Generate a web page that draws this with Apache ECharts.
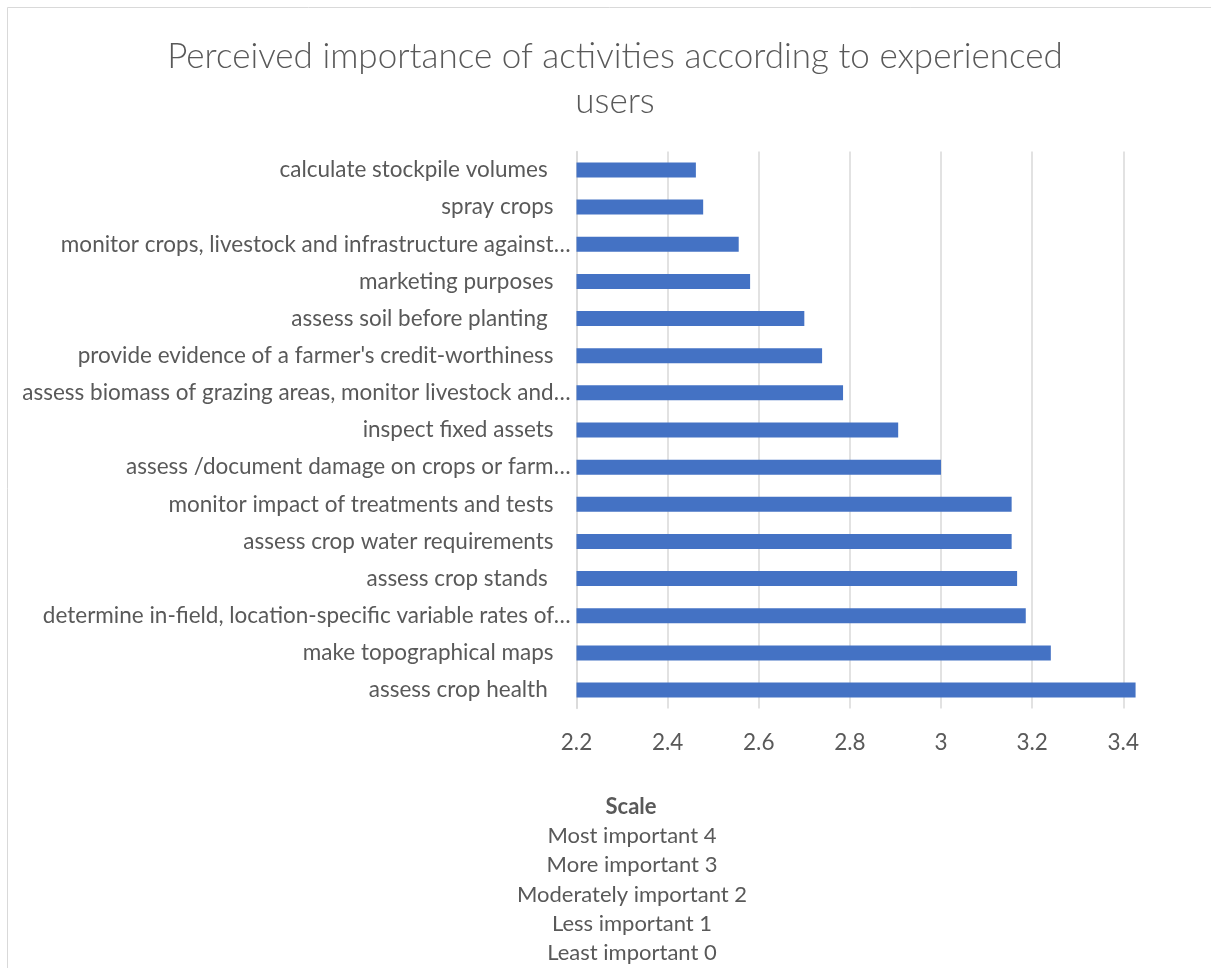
<!DOCTYPE html>
<html>
<head>
<meta charset="utf-8">
<script src="https://cdn.jsdelivr.net/npm/echarts@6/dist/echarts.min.js"></script>
<style>
  html, body { margin: 0; padding: 0; background: #ffffff; }
  #chart { width: 1211px; height: 968px; }
</style>
</head>
<body>
<div id="chart"></div>
<script>
// Categories listed top to bottom as shown in the chart
const categories = [
  "calculate stockpile volumes ",
  "spray crops",
  "monitor crops, livestock and infrastructure against…",
  "marketing purposes",
  "assess soil before planting ",
  "provide evidence of a farmer's credit-worthiness",
  "assess biomass of grazing areas, monitor livestock and…",
  "inspect fixed assets",
  "assess /document damage on crops or farm…",
  "monitor impact of treatments and tests",
  "assess crop water requirements",
  "assess crop stands ",
  "determine in-field, location-specific variable rates of…",
  "make topographical maps",
  "assess crop health "
];
const values = [2.462, 2.478, 2.556, 2.581, 2.700, 2.739, 2.785, 2.906, 3.000, 3.155, 3.155, 3.167, 3.186, 3.241, 3.427];
const titleText = "Perceived importance of activities according to experienced\nusers";
const scaleTitle = "Scale";
const scaleLines = ["Most important 4", "More important 3", "Moderately important 2", "Less important 1", "Least important 0"];

const FONT = "Lato";
const GREY = "#595959";
const FS = 22.5;

const chart = echarts.init(document.getElementById('chart'), null, { renderer: 'canvas' });

const graphics = [
  { type: 'rect', silent: true, shape: { x: 7.5, y: 7.5, width: 1300, height: 1000 },
    style: { fill: 'none', stroke: '#d9d9d9', lineWidth: 1 } },
  { type: 'text', x: 631, y: 807, silent: true,
    style: { text: scaleTitle, fontFamily: FONT, fontWeight: 'bold', fontSize: 22, fill: GREY,
             textAlign: 'center', textVerticalAlign: 'middle' } }
];
scaleLines.forEach((t, i) => {
  graphics.push({ type: 'text', x: 632, y: 836 + i * 29.3, silent: true,
    style: { text: t, fontFamily: FONT, fontSize: 22, fill: GREY, textAlign: 'center', textVerticalAlign: 'middle' } });
});

chart.setOption({
  animation: false,
  backgroundColor: '#ffffff',
  title: {
    text: titleText,
    left: 610,
    textAlign: 'center',
    top: 29,
    textStyle: { fontFamily: FONT, fontWeight: 300, fontSize: 35, color: GREY, lineHeight: 45 }
  },
  grid: { left: 576.5, top: 151.4, height: 557.2, width: 565 },
  xAxis: {
    type: 'value',
    min: 2.2,
    max: 3.44,
    interval: 0.2,
    axisLine: { show: false },
    axisTick: { show: false },
    splitLine: { show: true, showMaxLine: false, lineStyle: { color: '#d9d9d9', width: 1.5 } },
    axisLabel: { showMaxLabel: false, margin: 23, fontFamily: FONT, fontSize: FS, color: GREY }
  },
  yAxis: {
    type: 'category',
    inverse: true,
    data: categories,
    axisLine: { show: true, lineStyle: { color: '#d9d9d9', width: 1.5 } },
    axisTick: { show: false },
    axisLabel: {
      margin: 6,
      fontFamily: FONT, fontSize: FS, color: GREY,
      formatter: function (v) {
        return v.endsWith('…') ? '{t|' + v + '}' : '{t|' + v + '}{s|}';
      },
      rich: {
        t: { fontFamily: FONT, fontSize: FS, color: GREY },
        s: { width: 17 }
      }
    }
  },
  series: [{
    type: 'bar',
    data: values,
    barWidth: 15,
    itemStyle: { color: '#4472C4' }
  }],
  graphic: graphics
});
</script>
</body>
</html>
